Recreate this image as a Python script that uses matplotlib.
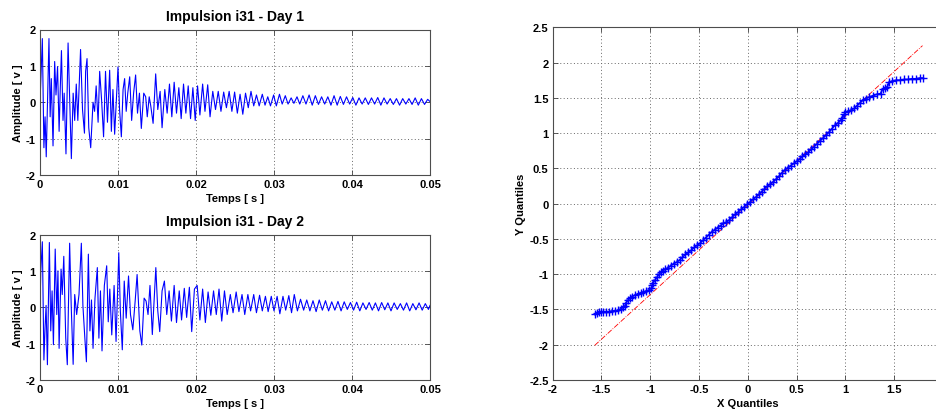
import matplotlib
matplotlib.use("Agg")
import matplotlib.pyplot as plt

plt.rcParams['font.family'] = ['Liberation Sans', 'DejaVu Sans']
plt.rcParams['font.weight'] = 'bold'
plt.rcParams['axes.unicode_minus'] = False

# ---- Impulse response, Day 1 (time in ms, amplitude in V) : extrema
t1_ms = [0.0, 0.17, 0.3, 0.5, 0.65, 0.8, 1.15, 1.3, 1.45, 1.67, 1.88, 2.05, 2.25, 2.45, 2.6,
         2.75, 2.95, 3.1, 3.33, 3.6, 3.8, 4.02, 4.25, 4.45, 4.65, 4.85, 5.2, 5.45, 5.7, 5.85,
         6.03, 6.25, 6.5, 6.8, 7.0, 7.2, 7.45, 7.65, 7.9, 8.15, 8.4, 8.65, 8.93, 9.15, 9.35,
         9.57, 10.0, 10.2, 10.43, 10.65, 10.85, 11.05, 11.25, 11.5, 11.75, 12.0, 12.26, 12.5,
         12.75, 12.99, 13.3, 13.55, 13.75, 14.0, 14.2, 14.5, 14.83, 15.1, 15.4, 15.65, 16.0,
         16.3, 16.6, 16.9, 17.2, 17.5, 17.8, 18.1, 18.4, 18.7, 19.0, 19.3, 19.6, 19.9, 20.2,
         20.5, 20.85, 21.15, 21.5, 21.8, 22.15, 22.5, 22.85, 23.2, 23.55, 23.9, 24.25, 24.6,
         24.95, 25.3, 25.65, 26.0, 26.35, 26.7, 27.05, 27.4, 27.75, 28.1, 28.5, 28.85, 29.2,
         29.55, 29.95, 30.3, 30.7, 31.05, 31.45, 31.8, 32.2, 32.55, 32.95, 33.3, 33.7, 34.1,
         34.5, 34.9, 35.3, 35.7, 36.1, 36.5, 36.9, 37.3, 37.7, 38.1, 38.5, 38.9, 39.3, 39.7,
         40.1, 40.5, 40.9, 41.3, 41.7, 42.1, 42.5, 42.9, 43.3, 43.7, 44.1, 44.5, 44.9, 45.3,
         45.7, 46.1, 46.5, 46.9, 47.3, 47.7, 48.1, 48.5, 48.9, 49.3, 49.7, 50.0]
v1 = [0.0, 1.0, 1.75, -1.25, -0.4, -1.5, 1.75, -0.4, 0.65, -1.2, 1.12, 0.2, 0.98, -0.8, 0.4,
      1.42, -0.5, 0.25, -1.42, 1.63, 0.1, -1.55, 0.25, -0.5, 0.5, -0.5, 1.45, -0.2, -0.85, 0.85,
      1.2, -0.7, -1.25, 0.0, -0.25, 0.45, -0.55, 0.85, 0.05, -0.95, 0.85, -0.55, 0.88, -0.8, 0.35,
      -0.88, 0.97, -0.2, -0.95, 0.35, 0.65, -0.25, 0.25, 0.7, -0.5, 0.25, 0.75, -0.3,
      0.25, -0.72, 0.25, 0.15, -0.4, 0.15, -0.1, -0.58, 0.78, -0.2, 0.3, -0.7, 0.35,
      -0.3, 0.5, -0.4, 0.55, -0.3, 0.4, -0.45, 0.5, -0.3, 0.45, -0.45, 0.4, -0.5, 0.45,
      -0.35, 0.5, -0.25, 0.48, -0.4, 0.3, -0.2, 0.3, -0.25, 0.28, -0.15, 0.3, -0.25,
      0.28, -0.3, 0.22, -0.33, 0.25, -0.15, 0.3, -0.1, 0.2, -0.1, 0.22, -0.08, 0.15,
      -0.1, 0.2, -0.1, 0.22, -0.05, 0.18, -0.05, 0.12, -0.03, 0.15, -0.05, 0.18, -0.05,
      0.2, -0.08, 0.18, -0.06, 0.15, -0.05, 0.15, -0.08, 0.18, -0.08, 0.16, -0.06, 0.15, -0.05,
      0.13, -0.08, 0.12, -0.05, 0.12, -0.06, 0.12, -0.05, 0.13, -0.08, 0.12, -0.05, 0.1, -0.06,
      0.1, -0.08, 0.1, -0.05, 0.1, -0.06, 0.12, -0.08, 0.1, -0.06, 0.08, 0.02]

# ---- Impulse response, Day 2
t2_ms = [0.0, 0.1, 0.3, 0.5, 0.65, 0.78, 0.95, 1.2, 1.38, 1.55, 1.72, 1.95, 2.15, 2.3, 2.45,
         2.7, 2.85, 3.05, 3.3, 3.5, 3.8, 4.0, 4.25, 4.45, 4.7, 5.0, 5.3, 5.5, 5.75, 5.95, 6.2,
         6.4, 6.6, 6.8, 7.05, 7.35, 7.55, 7.75, 7.95, 8.25, 8.55, 8.75, 8.95, 9.2, 9.5, 9.75,
         10.1, 10.3, 10.55, 10.8, 11.05, 11.35, 11.6, 11.9, 12.2, 12.45, 12.8, 13.05, 13.35,
         13.6, 13.85, 14.1, 14.4, 14.85, 15.1, 15.35, 15.65, 15.95, 16.25, 16.55, 16.85, 17.2,
         17.5, 17.85, 18.15, 18.5, 18.8, 19.15, 19.45, 19.8, 20.15, 20.5, 20.85, 21.2, 21.55,
         21.9, 22.25, 22.6, 22.95, 23.3, 23.65, 24.0, 24.4, 24.75, 25.15, 25.5, 25.9, 26.25,
         26.65, 27.0, 27.4, 27.75, 28.15, 28.5, 28.9, 29.25, 29.65, 30.0, 30.4, 30.75, 31.15,
         31.5, 31.9, 32.25, 32.6, 33.0, 33.4, 33.8, 34.2, 34.6, 35.0, 35.4, 35.8, 36.2, 36.6,
         37.0, 37.4, 37.8, 38.2, 38.6, 39.0, 39.4, 39.8, 40.2, 40.6, 41.0, 41.4, 41.8, 42.2,
         42.6, 43.0, 43.4, 43.8, 44.2, 44.6, 45.0, 45.4, 45.8, 46.2, 46.6, 47.0, 47.4, 47.8,
         48.2, 48.6, 49.0, 49.4, 49.8, 50.0]
v2 = [0.0, 1.0, 1.8, -1.45, -0.55, 0.05, -1.58, 1.78, -0.65, 0.45, -1.03, 1.6, -0.2, 1.0, -1.13,
      1.05, 0.35, 1.4, -0.85, -1.58, 1.76, 0.05, -1.57, 0.35, -0.2, 0.35, 1.76, 0.05, -0.85, -1.5, 1.46,
      -0.65, 0.2, -1.13, 0.25, 1.09, -0.85, 0.45, -1.2, 0.6, 1.14, -0.4, 0.5, -0.76, 0.6, -0.94,
      1.5, -0.1, -1.17, 0.72, -0.3, 0.86, -0.2, -0.62, 0.17, 0.9, -0.65, -1.04, 0.25,
      0.17, -0.2, 0.6, -0.75, 1.09, -0.1, -0.67, 0.45, 0.72, -0.2, 0.45, -0.38, 0.6,
      -0.42, 0.45, -0.35, 0.52, -0.28, 0.55, -0.67, 0.5, 0.6, -0.35, 0.5, -0.42, 0.42,
      -0.22, 0.45, -0.2, 0.5, -0.38, 0.45, -0.2, 0.35, -0.15, 0.42, -0.12, 0.35, -0.2,
      0.35, -0.1, 0.35, -0.15, 0.33, -0.1, 0.3, -0.12, 0.3, -0.1, 0.3, -0.18, 0.3,
      -0.08, 0.32, -0.15, 0.35, -0.1, 0.22, -0.08, 0.2, -0.1, 0.18, -0.12, 0.2, -0.08, 0.18,
      -0.1, 0.15, -0.08, 0.16, -0.1, 0.15, -0.06, 0.13, -0.08, 0.14, -0.1, 0.12, -0.06, 0.13,
      -0.08, 0.12, -0.1, 0.13, -0.07, 0.12, -0.1, 0.12, -0.06, 0.1, -0.08, 0.12, -0.1, 0.1,
      -0.07, 0.12, -0.08, 0.1, -0.06, 0.05]

# ---- QQ plot (quantiles)
qx = [-1.57, -1.55, -1.53, -1.51, -1.48, -1.45, -1.42, -1.39, -1.36, -1.33, -1.30, -1.28, -1.26,
      -1.25, -1.23, -1.21, -1.19, -1.16, -1.13, -1.10, -1.07, -1.04, -1.01, -0.99, -0.98, -0.97,
      -0.95, -0.93, -0.91, -0.89, -0.87, -0.85, -0.82, -0.79, -0.76, -0.73, -0.70, -0.67, -0.64,
      -0.61, -0.58, -0.55, -0.52, -0.49, -0.46, -0.43, -0.40, -0.37, -0.34, -0.31, -0.28, -0.25,
      -0.22, -0.19, -0.16, -0.13, -0.10, -0.07, -0.04, -0.01, 0.02, 0.05, 0.08, 0.11, 0.14, 0.17,
      0.20, 0.23, 0.26, 0.29, 0.32, 0.35, 0.38, 0.41, 0.44, 0.47, 0.50, 0.53, 0.56, 0.59, 0.62,
      0.65, 0.68, 0.71, 0.74, 0.77, 0.80, 0.83, 0.86, 0.89, 0.92, 0.95, 0.97, 0.99, 1.00, 1.03,
      1.06, 1.09, 1.12, 1.15, 1.18, 1.21, 1.24, 1.28, 1.32, 1.36, 1.38, 1.41, 1.43, 1.45, 1.48,
      1.52, 1.56, 1.60, 1.64, 1.68, 1.72, 1.76, 1.79]
qy = [-1.57, -1.55, -1.53, -1.53, -1.53, -1.53, -1.53, -1.52, -1.52, -1.51, -1.49, -1.47, -1.45,
      -1.41, -1.37, -1.34, -1.32, -1.30, -1.28, -1.27, -1.25, -1.24, -1.22, -1.20, -1.16, -1.12,
      -1.08, -1.04, -1.00, -0.97, -0.95, -0.93, -0.91, -0.88, -0.85, -0.83, -0.80, -0.76, -0.72,
      -0.69, -0.66, -0.62, -0.59, -0.56, -0.52, -0.48, -0.44, -0.40, -0.37, -0.34, -0.31, -0.28,
      -0.26, -0.23, -0.19, -0.15, -0.12, -0.08, -0.05, -0.01, 0.02, 0.06, 0.09, 0.13, 0.17, 0.21,
      0.25, 0.28, 0.31, 0.35, 0.39, 0.44, 0.48, 0.51, 0.54, 0.57, 0.60, 0.63, 0.67, 0.70, 0.73,
      0.77, 0.81, 0.85, 0.89, 0.93, 0.97, 1.01, 1.06, 1.11, 1.14, 1.18, 1.22, 1.27, 1.30, 1.31,
      1.33, 1.35, 1.39, 1.43, 1.47, 1.49, 1.51, 1.53, 1.55, 1.56, 1.62, 1.64, 1.66, 1.72, 1.74,
      1.75, 1.75, 1.76, 1.76, 1.77, 1.77, 1.78, 1.78]
ref_x = [-1.57, 1.79]
ref_y = [-2.01, 2.24]

time_ticks = [0, 0.01, 0.02, 0.03, 0.04, 0.05]
time_labels = ['0', '0.01', '0.02', '0.03', '0.04', '0.05']
amp_ticks = [-2, -1, 0, 1, 2]
q_xticks = [-2, -1.5, -1, -0.5, 0, 0.5, 1, 1.5, 2]
q_xlabels = ['-2', '-1.5', '-1', '-0.5', '0', '0.5', '1', '1.5', '']
q_yticks = [-2.5, -2, -1.5, -1, -0.5, 0, 0.5, 1, 1.5, 2, 2.5]

FS = 8
W, H = 936, 410
fig = plt.figure(figsize=(W / 100, H / 100), dpi=100)


def box(px_left, px_top, px_right, px_bottom):
    return [px_left / W, 1 - px_bottom / H, (px_right - px_left) / W, (px_bottom - px_top) / H]


def style(ax):
    ax.grid(True, linestyle=(0, (1, 2.5)), color='0.4', linewidth=0.7)
    ax.set_axisbelow(True)
    ax.tick_params(direction='in', length=3.5, width=0.6, top=True, right=True,
                   labelsize=FS, pad=3, colors='0.25', labelcolor='black')
    for s in ax.spines.values():
        s.set_color('0.3')
        s.set_linewidth(0.8)
    for lab in ax.get_xticklabels() + ax.get_yticklabels():
        lab.set_fontweight('bold')


def impulse(ax, t_ms, v, title):
    t = [x / 1000.0 for x in t_ms]
    ax.plot(t, v, color='#0000ff', linewidth=0.8)
    ax.set_xlim(0, 0.05)
    ax.set_ylim(-2, 2)
    ax.set_xticks(time_ticks)
    ax.set_xticklabels(time_labels)
    ax.set_yticks(amp_ticks)
    ax.set_yticklabels([str(a) for a in amp_ticks])
    ax.set_title(title, fontsize=10, fontweight='bold', pad=7)
    ax.set_xlabel('Temps [ s ]', fontsize=FS, fontweight='bold', labelpad=3)
    ax.set_ylabel('Amplitude [ v ]', fontsize=FS, fontweight='bold', labelpad=2)
    style(ax)


ax1 = fig.add_axes(box(40, 30.5, 430, 176))
impulse(ax1, t1_ms, v1, 'Impulsion i31 - Day 1')
ax2 = fig.add_axes(box(40, 235.5, 430, 381))
impulse(ax2, t2_ms, v2, 'Impulsion i31 - Day 2')

ax3 = fig.add_axes(box(552.7, 28.3, 943, 381))
ax3.plot(ref_x, ref_y, color='#ff0000', linestyle='-.', linewidth=0.6)
ax3.plot(qx, qy, linestyle='-', linewidth=1.2, marker='+', color='#0000ff',
         markersize=5.5, markeredgewidth=1.0)
ax3.set_xlim(-2, 2)
ax3.set_ylim(-2.5, 2.5)
ax3.set_xticks(q_xticks)
ax3.set_xticklabels(q_xlabels)
ax3.set_yticks(q_yticks)
ax3.set_yticklabels([('%g' % v) for v in q_yticks])
ax3.set_xlabel('X Quantiles', fontsize=FS, fontweight='bold', labelpad=3)
ax3.set_ylabel('Y Quantiles', fontsize=FS, fontweight='bold', labelpad=2)
style(ax3)

fig.savefig('out.png', dpi=100)
